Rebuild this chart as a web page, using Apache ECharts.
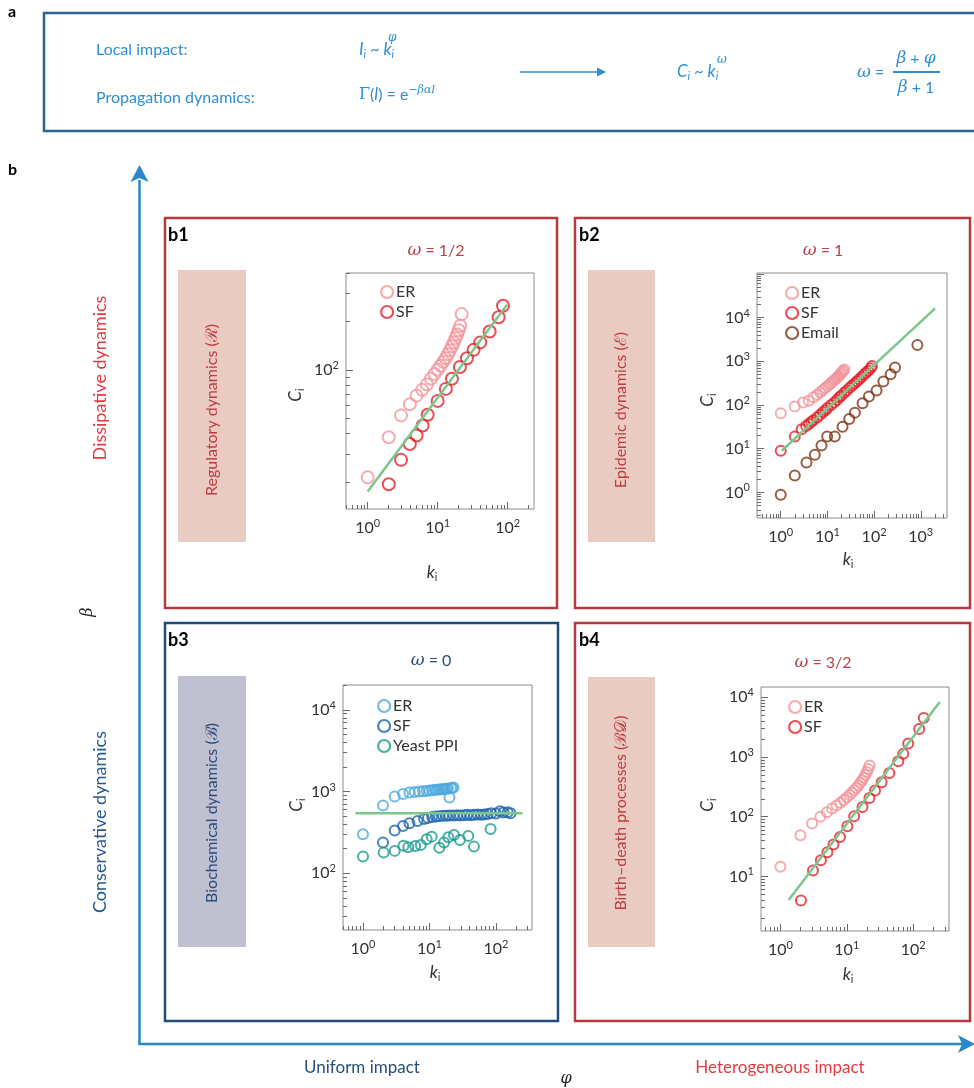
<!DOCTYPE html>
<html><head><meta charset="utf-8">
<script src="https://cdn.jsdelivr.net/npm/echarts@6/dist/echarts.min.js"></script>
<style>html,body{margin:0;padding:0;background:#fff}#c{width:974px;height:1088px}</style>
</head><body><div id="c"></div>
<script>
// ---------------- DATA ----------------
// b1 (regulatory, omega = 1/2)
const b1_ER_k = [1,2,3,4,5,6,7,8,9,10,11,12,13,14,15,16,17,18,19,20,21,22];
const b1_ER_C = [21.4,38,52,61,69,75,81,88,94,100,106,112,118,125,132,140,148,157,166,176,188,222];
const b1_SF_k = [2,3,4,5,6.1,7.2,10,13.1,16,20.8,26.2,32.6,40.6,55.3,74.3,85.8];
const b1_SF_C = [19.4,27.5,34.5,39,45,52.5,64,76,88,104,118,133,148,173,212,250];
const b1_fit_k = [1,98];
const b1_fit_C = [17.5,254];
// b2 (epidemic, omega = 1)
const b2_ER_k = [1,2,3,4,5,6,7,8,9,10,11,12,13,14,15,16,17,18,19,20,21,22,23];
const b2_ER_C = [65,92,114,126,150,172,195,220,245,270,295,320,345,370,395,420,450,480,510,540,575,610,650];
const b2_SF_k = [1,2,2.8,3.5,4,4.5,5,6,7,8,9,10,12,14,16,18,20,23,26,30,34,38,43,48,54,60,67,75,84,90];
const b2_SF_C = [9,19,28,33,37,41,45,52,60,68,76,85,100,115,130,150,165,190,215,250,280,310,350,390,440,490,550,610,690,780];
const b2_Email_k = [1,2,3.56,5.37,7.47,9.9,14.4,21.1,29.3,38.8,56.7,77.6,113,158,226,281,847];
const b2_Email_C = [0.88,2.45,4.85,7.26,11.9,19,19,32,48,67,110,156,214,344,507,720,2370];
const b2_fit_k = [1.05,2030];
const b2_fit_C = [9,16300];
// b3 (biochemical, omega = 0)
const b3_ER_k = [1,2,3,4,5,6,7,8,9,10,11,12,13,14,15,16,17,18,19,20,21,22,23];
const b3_ER_C = [300,675,869,935,972,990,1000,1010,1020,1030,1040,1050,1055,1060,1065,1070,1080,1085,1090,845,1100,1110,1120];
const b3_SF_k = [2,3,4,5,6.6,8.3,9.5,11,12.5,14,16,18,20,23,26,29,33,37,42,47,53,60,67,75,85,100,115,130,150,166];
const b3_SF_C = [238,333,380,409,437,462,475,488,495,500,505,505,510,510,515,510,515,520,515,520,525,520,525,530,545,540,575,555,560,543];
const b3_PPI_k = [1,2.04,3,4.07,4.8,6.1,7.4,9.1,10.8,14.1,16.6,19.2,23.4,28.8,38.4,46.7,83];
const b3_PPI_C = [160,179,188,218,208,216,222,261,281,206,238,276,295,256,287,212,349];
const b3_fit_k = [0.77,251];
const b3_fit_C = [543,543];
// b4 (birth-death, omega = 3/2)
const b4_ER_k = [1,2,3,4,5,6,7,8,9,10,11,12,13,14,15,16,17,18,19,20,21,22];
const b4_ER_C = [14.5,49,77,100,119,138,155,172,190,210,232,255,280,305,335,370,410,450,500,560,630,720];
const b4_SF_k = [2.04,3.09,4.07,5.1,6.3,7.9,10.2,12.9,17.2,21.9,26.6,33.5,43.7,59.6,70.8,84.1,123,144];
const b4_SF_C = [3.96,12.6,18.7,25.5,34.3,46,69.5,102,145,207,275,379,542,851,1130,1680,2950,4520];
const b4_fit_k = [1.33,251];
const b4_fit_C = [4.02,8360];
// tick labels (decades)
const b1_xLabels = [1,10,100];
const b1_yLabels = [100];
const b2_xLabels = [1,10,100,1000];
const b2_yLabels = [1,10,100,1000,10000];
const b3_xLabels = [1,10,100];
const b3_yLabels = [100,1000,10000];
const b4_xLabels = [1,10,100];
const b4_yLabels = [10,100,1000,10000];

// ---------------- STYLE ----------------
const PINK = '#f3969c', RED = '#e3222b', BROWN = '#7a3616';
const LBLUE = '#4ea9e0', DBLUE = '#1d64ad', TEAL = '#1a9b8e', GREEN = '#7cc68b';
const SANS = 'Lato';
const SERIF = 'DejaVu Serif';
const AX = '#6a6a6a';

const grids = [
  {left:346, top:273, width:188, height:236},
  {left:757, top:273, width:190, height:245},
  {left:343, top:685, width:189, height:245},
  {left:761, top:687, width:188, height:244}
];
const ranges = [
  {x:[0.49,238], y:[13.6,400], xl:b1_xLabels, yl:b1_yLabels},
  {x:[0.31,3650], y:[0.26,105000], xl:b2_xLabels, yl:b2_yLabels},
  {x:[0.5,349], y:[20.2,20200], xl:b3_xLabels, yl:b3_yLabels},
  {x:[0.51,346], y:[1.22,14900], xl:b4_xLabels, yl:b4_yLabels}
];
function minorVals(r){
  const out=[];
  for(let e=-2;e<=6;e++) for(let m=2;m<=9;m++){const v=+(m*Math.pow(10,e)).toPrecision(6); if(v>=r[0]&&v<=r[1]) out.push(v);}
  return out;
}
function decades(r){
  const out=[];
  for(let e=-2;e<=6;e++){const v=Math.pow(10,e); if(v>=r[0]&&v<=r[1]) out.push(v);}
  return out;
}
const richTick = {
  b:{fontSize:16, color:'#333', fontFamily:SANS},
  s:{fontSize:11, color:'#333', fontFamily:SANS, padding:[0,0,9,0]}
};
function fmtTick(v){ return '{b|10}{s|' + Math.round(Math.log10(v)) + '}'; }

const xAxis=[], yAxis=[];
ranges.forEach((r,g)=>{
  [['x',xAxis,'bottom'],['y',yAxis,'left']].forEach(([d,arr,pos])=>{
    const rng = r[d], labels = r[d+'l'];
    arr.push({type:'log', logBase:10, gridIndex:g, position:pos, min:rng[0], max:rng[1],
      axisLine:{show:false}, splitLine:{show:false},
      axisTick:{show:true, inside:true, length:7, customValues:decades(rng), lineStyle:{color:AX,width:1}},
      axisLabel:{show:true, customValues:labels, formatter:fmtTick, rich:richTick, margin: d==='x'?9:7}
    });
    arr.push({type:'log', logBase:10, gridIndex:g, position:pos, min:rng[0], max:rng[1],
      axisLine:{show:false}, splitLine:{show:false},
      axisTick:{show:true, inside:true, length:4, customValues:minorVals(rng), lineStyle:{color:AX,width:1}},
      axisLabel:{show:false}
    });
  });
});

function pts(k,c){ return k.map((v,i)=>[v,c[i]]); }
function sc(name,g,k,c,col,size){
  return {name, type:'scatter', xAxisIndex:2*g, yAxisIndex:2*g, data:pts(k,c), symbol:'circle', symbolSize:size||11,
    itemStyle:{color:'rgba(255,255,255,0)', borderColor:col, borderWidth:2}, z:3, silent:true, animation:false};
}
function fit(g,k,c){
  return {type:'line', xAxisIndex:2*g, yAxisIndex:2*g, data:pts(k,c), symbol:'none', showSymbol:false,
    lineStyle:{color:GREEN, width:2.5}, z:4, silent:true, animation:false};
}
const series = [
  sc('b1|ER',0,b1_ER_k,b1_ER_C,PINK,12), sc('b1|SF',0,b1_SF_k,b1_SF_C,RED,12), fit(0,b1_fit_k,b1_fit_C),
  sc('b2|ER',1,b2_ER_k,b2_ER_C,PINK,10), sc('b2|SF',1,b2_SF_k,b2_SF_C,RED,10), sc('b2|Email',1,b2_Email_k,b2_Email_C,BROWN,10), fit(1,b2_fit_k,b2_fit_C),
  sc('b3|ER',2,b3_ER_k,b3_ER_C,LBLUE,10), sc('b3|SF',2,b3_SF_k,b3_SF_C,DBLUE,10), sc('b3|Yeast PPI',2,b3_PPI_k,b3_PPI_C,TEAL,10), fit(2,b3_fit_k,b3_fit_C),
  sc('b4|ER',3,b4_ER_k,b4_ER_C,PINK,10), sc('b4|SF',3,b4_SF_k,b4_SF_C,RED,10), fit(3,b4_fit_k,b4_fit_C)
];
function lg(names,left,top){
  return {data:names, left, top, orient:'vertical', itemGap:2, itemWidth:12, itemHeight:12, icon:'circle',
    selectedMode:false, formatter:n=>n.split('|')[1],
    itemStyle:{borderWidth:2.2},
    textStyle:{fontSize:16, color:'#333', fontFamily:SANS, lineHeight:18, padding:[0,0,0,-2]}};
}
const legend = [
  lg(['b1|ER','b1|SF'],375,278),
  lg(['b2|ER','b2|SF','b2|Email'],780,279),
  lg(['b3|ER','b3|SF','b3|Yeast PPI'],372,692),
  lg(['b4|ER','b4|SF'],783,693)
];

// ---------------- GRAPHICS ----------------
function T(x,y,text,o){
  o=o||{};
  return {type:'text', x, y, rotation:o.rot||0, silent:true, z:10,
    style:{text, fill:o.color||'#000', font:o.font||('16px '+SANS), textAlign:o.align||'left', textVerticalAlign:'middle',
      align:o.align||'left', verticalAlign:'middle', rich:o.rich}};
}
function R(x,y,w,h,stroke,lw,fill){
  return {type:'rect', silent:true, z:1, shape:{x,y,width:w,height:h}, style:{fill:fill||'none', stroke:stroke||'none', lineWidth:lw||0}};
}
function L(x1,y1,x2,y2,col,lw){
  return {type:'line', silent:true, z:2, shape:{x1,y1,x2,y2}, style:{stroke:col, lineWidth:lw}};
}
function P(points,col){
  return {type:'polygon', silent:true, z:2, shape:{points}, style:{fill:col}};
}
const ACOL = '#2f8fd1';   // panel a text
const ARROW = '#2a87c9';
const BOXRED = '#b8393d', BOXBLUE = '#1f4d7a';
const richMath = {
  it:{fontFamily:SANS, fontStyle:'italic', fontSize:17, fill:ACOL},
  n:{fontFamily:SANS, fontSize:16, fill:ACOL},
  sub:{fontFamily:SANS, fontStyle:'italic', fontSize:11, fill:ACOL, padding:[9,0,0,0]},
  sup:{fontFamily:SERIF, fontStyle:'italic', fontSize:11, fill:ACOL, padding:[0,0,9,0]},
  g:{fontFamily:SERIF, fontSize:16, fill:ACOL},
  w:{fontFamily:SERIF, fontStyle:'italic', fontSize:17, fill:ACOL}
};
function omegaTitle(x,y,val,col){
  return T(x,y,'{w|ω}{t| = '+val+'}',{align:'center', color:col, rich:{
    w:{fontFamily:SERIF, fontStyle:'italic', fontSize:17, fill:col},
    t:{fontFamily:SANS, fontSize:16, fill:col}}});
}
function axName(x,y,base,sub,rot){
  return T(x,y,'{b|'+base+'}{s|'+sub+'}',{align:'center', rot:rot||0, color:'#333', rich:{
    b:{fontFamily:SANS, fontStyle:'italic', fontSize:17, fill:'#333'},
    s:{fontFamily:SANS, fontSize:11, fill:'#333', padding:[9,0,0,0]}}});
}

const graphic = [
  // panel a
  T(8,12,'a',{font:'bold 16px '+SANS}),
  R(44,13,1000,118,'#2c6496',2.5),
  T(96,50,'Local impact:',{color:ACOL, font:'16px '+SANS}),
  T(96,98,'Propagation dynamics:',{color:ACOL, font:'16px '+SANS}),
  T(359,50,'{it|I}{sub|i}{n| ~ }{it|k}{sub|i}',{color:ACOL, rich:richMath}),
  T(388,38,'φ',{color:ACOL, font:'italic 12px '+SERIF}),
  T(359,95,'{g|Γ}{n|(}{it|l}{n|) = e}{sup|−βαl}',{color:ACOL, rich:richMath}),
  L(520,72,600,72,ACOL,1.5),
  P([[606,72],[597,67.5],[597,76.5]],ACOL),
  T(677,72,'{it|C}{sub|i}{n| ~ }{it|k}{sub|i}',{color:ACOL, rich:richMath}),
  T(717,60,'ω',{color:ACOL, font:'italic 12px '+SERIF}),
  T(857,73,'{w|ω}{n| =}',{color:ACOL, rich:richMath}),
  L(893,72,940,72,ACOL,2),
  T(916,59,'{w|β}{n| + }{w|φ}',{align:'center', color:ACOL, rich:richMath}),
  T(916,88,'{w|β}{n| + 1}',{align:'center', color:ACOL, rich:richMath}),
  // panel b frame
  T(8,170,'b',{font:'bold 16px '+SANS}),
  L(139.5,1044,139.5,180,ARROW,2.5),
  P([[139.5,165],[130.5,182],[139.5,178],[148.5,182]],ARROW),
  L(138.3,1044,962,1044,ARROW,2.5),
  P([[975,1044],[958,1035],[962,1044],[958,1053]],ARROW),
  T(100,378,'Dissipative dynamics',{align:'center', rot:Math.PI/2, color:'#e53940', font:'18px '+SANS}),
  T(100,822,'Conservative dynamics',{align:'center', rot:Math.PI/2, color:'#245a8c', font:'18px '+SANS}),
  T(88,612,'β',{align:'center', rot:Math.PI/2, color:'#222', font:'italic 16px '+SERIF}),
  T(362,1068,'Uniform impact',{align:'center', color:'#274f7a', font:'17px '+SANS}),
  T(780,1068,'Heterogeneous impact',{align:'center', color:'#e53a40', font:'17px '+SANS}),
  T(566,1079,'φ',{align:'center', color:'#222', font:'italic 16px '+SERIF}),
  // panel boxes
  R(165,218,392,390,BOXRED,2.5),
  R(575,218,395,390,BOXRED,2.5),
  R(165,623,393,398,BOXBLUE,2.5),
  R(575,623,395,398,BOXRED,2.5),
  T(168,235,'b1',{font:'bold 18px '+SANS}),
  T(579,235,'b2',{font:'bold 18px '+SANS}),
  T(168,640,'b3',{font:'bold 18px '+SANS}),
  T(579,640,'b4',{font:'bold 18px '+SANS}),
  omegaTitle(436,251,'1/2','#b9424a'),
  omegaTitle(823,251,'1','#b9424a'),
  omegaTitle(431,661,'0','#274f7a'),
  omegaTitle(823,663,'3/2','#b9424a'),
  // side boxes
  R(178,270,68,272,null,0,'#e9cbc2'),
  R(588,270,67,272,null,0,'#e9cbc2'),
  R(178,676,68,271,null,0,'#bfc1d1'),
  R(588,677,67,270,null,0,'#e9cbc2'),
  T(212,410,'Regulatory dynamics (ℛ)',{align:'center', rot:Math.PI/2, color:'#c13a3f', font:'16px '+SANS}),
  T(621,410,'Epidemic dynamics (ℰ)',{align:'center', rot:Math.PI/2, color:'#c13a3f', font:'16px '+SANS}),
  T(212,813,'Biochemical dynamics (ℬ)',{align:'center', rot:Math.PI/2, color:'#28497a', font:'16px '+SANS}),
  T(621,813,'Birth–death processes (ℬ𝒟)',{align:'center', rot:Math.PI/2, color:'#c13a3f', font:'16px '+SANS}),
  // axis names
  axName(296,395,'C','i',Math.PI/2),
  axName(432,573,'k','i'),
  axName(708,400,'C','i',Math.PI/2),
  axName(848,560,'k','i'),
  axName(297,805,'C','i',Math.PI/2),
  axName(435,973,'k','i'),
  axName(708,805,'C','i',Math.PI/2),
  axName(848,975,'k','i')
];

const chart = echarts.init(document.getElementById('c'), null, {renderer:'canvas'});
chart.setOption({
  animation:false,
  backgroundColor:'#fff',
  grid: grids.map(g=>Object.assign({show:true, borderColor:'#8c8c8c', borderWidth:1, backgroundColor:'rgba(0,0,0,0)'},g)),
  xAxis, yAxis, series, legend, graphic
});
</script>
</body></html>
